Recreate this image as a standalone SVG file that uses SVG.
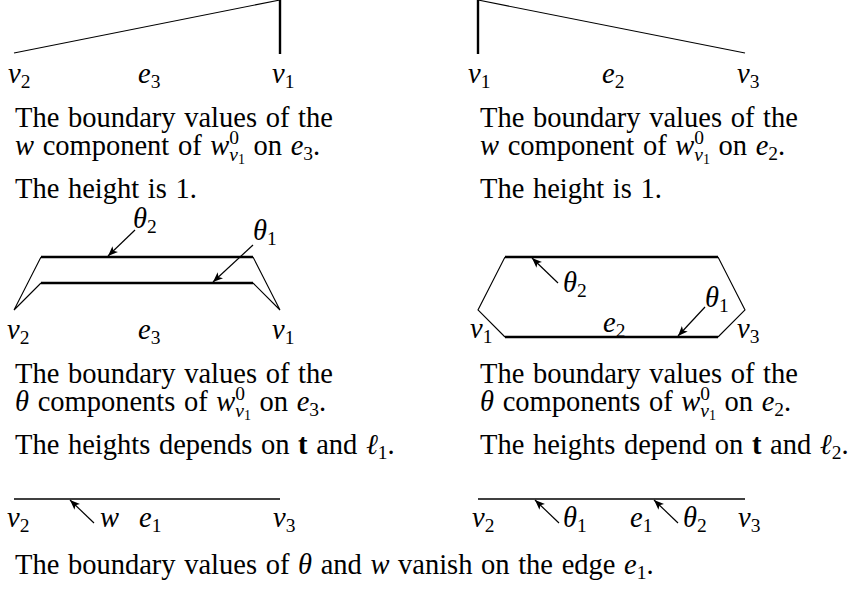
<svg xmlns="http://www.w3.org/2000/svg" width="855" height="590" viewBox="0 0 855 590">
<style>
text{font-family:"Liberation Serif","Times New Roman",serif;font-size:28.5px;fill:#000;word-spacing:1.5px}
.i{font-style:italic}
.n{font-style:normal}
.s{font-size:19.5px}
.ss{font-size:14px}
.b{font-weight:bold}
.thin{stroke:#000;stroke-width:1.1;fill:none}
.thick{stroke:#000;stroke-width:2.4;fill:none}
.mid{stroke:#000;stroke-width:1.6;fill:none}
.arr{stroke:#000;stroke-width:1.2;fill:none;marker-end:url(#ah)}
</style>
<defs>
<marker id="ah" markerUnits="userSpaceOnUse" markerWidth="12" markerHeight="10" refX="10" refY="4" orient="auto" viewBox="0 0 12 8"><path d="M0,0 L10,4 L0,8 L2.5,4 z" fill="#000"/></marker>
</defs>

<g id="panel-w-e3">
<line class="thin" x1="14" y1="53" x2="280" y2="0"/>
<line class="thick" x1="280" y1="0" x2="280" y2="54"/>
<text x="8" y="83" class="i">v<tspan class="s n" dy="5">2</tspan></text>
<text x="138" y="83" class="i">e<tspan class="s n" dy="5">3</tspan></text>
<text x="272" y="83" class="i">v<tspan class="s n" dy="5">1</tspan></text>
</g>

<g id="panel-w-e2">
<line class="thick" x1="478" y1="0" x2="478" y2="54"/>
<line class="thin" x1="478" y1="0" x2="745" y2="53"/>
<text x="468" y="83" class="i">v<tspan class="s n" dy="5">1</tspan></text>
<text x="602" y="83" class="i">e<tspan class="s n" dy="5">2</tspan></text>
<text x="737" y="83" class="i">v<tspan class="s n" dy="5">3</tspan></text>
</g>

<g id="caption-w-e3">
<text x="15" y="127">The boundary values of the</text>
<text x="15" y="155"><tspan class="i">w</tspan> component of <tspan class="i">w</tspan><tspan class="s" dy="-11">0</tspan><tspan class="s i" dx="-9.8" dy="17">v</tspan><tspan class="ss" dy="3">1</tspan><tspan dy="-9"> on </tspan><tspan class="i">e</tspan><tspan class="s" dy="5">3</tspan><tspan dy="-5">.</tspan></text>
<text x="15" y="198">The height is 1.</text>
</g>

<g id="caption-w-e2">
<text x="480" y="127">The boundary values of the</text>
<text x="480" y="155"><tspan class="i">w</tspan> component of <tspan class="i">w</tspan><tspan class="s" dy="-11">0</tspan><tspan class="s i" dx="-9.8" dy="17">v</tspan><tspan class="ss" dy="3">1</tspan><tspan dy="-9"> on </tspan><tspan class="i">e</tspan><tspan class="s" dy="5">2</tspan><tspan dy="-5">.</tspan></text>
<text x="480" y="198">The height is 1.</text>
</g>

<g id="panel-theta-e3">
<line class="thick" x1="41" y1="257" x2="253" y2="257"/>
<line class="thick" x1="41" y1="283" x2="253" y2="283"/>
<polyline class="thin" points="41,257 14,310 41,283"/>
<polyline class="thin" points="253,257 280,310 253,283"/>
<text x="133" y="228" class="i">θ<tspan class="s n" dy="5">2</tspan></text>
<text x="253" y="240" class="i">θ<tspan class="s n" dy="5">1</tspan></text>
<text x="7" y="339" class="i">v<tspan class="s n" dy="5">2</tspan></text>
<text x="138" y="339" class="i">e<tspan class="s n" dy="5">3</tspan></text>
<text x="272" y="339" class="i">v<tspan class="s n" dy="5">1</tspan></text>
</g>

<g id="panel-theta-e2">
<line class="thick" x1="505" y1="257" x2="718" y2="257"/>
<line class="thick" x1="505" y1="337" x2="718" y2="337"/>
<polyline class="thin" points="505,257 478,310 505,337"/>
<polyline class="thin" points="718,257 745,310 718,337"/>
<text x="563" y="292" class="i">θ<tspan class="s n" dy="5">2</tspan></text>
<text x="705" y="307" class="i">θ<tspan class="s n" dy="5">1</tspan></text>
<text x="470" y="338" class="i">v<tspan class="s n" dy="5">1</tspan></text>
<text x="603" y="332" class="i">e<tspan class="s n" dy="5">2</tspan></text>
<text x="737" y="338" class="i">v<tspan class="s n" dy="5">3</tspan></text>
</g>

<g id="caption-theta-e3">
<text x="15" y="383">The boundary values of the</text>
<text x="15" y="411"><tspan class="i">θ</tspan> components of <tspan class="i">w</tspan><tspan class="s" dy="-11">0</tspan><tspan class="s i" dx="-9.8" dy="17">v</tspan><tspan class="ss" dy="3">1</tspan><tspan dy="-9"> on </tspan><tspan class="i">e</tspan><tspan class="s" dy="5">3</tspan><tspan dy="-5">.</tspan></text>
<text x="15" y="454">The heights depends on <tspan class="b">t</tspan> and <tspan class="i">ℓ</tspan><tspan class="s" dy="5">1</tspan><tspan dy="-5">.</tspan></text>
</g>

<g id="caption-theta-e2">
<text x="480" y="383">The boundary values of the</text>
<text x="480" y="411"><tspan class="i">θ</tspan> components of <tspan class="i">w</tspan><tspan class="s" dy="-11">0</tspan><tspan class="s i" dx="-9.8" dy="17">v</tspan><tspan class="ss" dy="3">1</tspan><tspan dy="-9"> on </tspan><tspan class="i">e</tspan><tspan class="s" dy="5">2</tspan><tspan dy="-5">.</tspan></text>
<text x="480" y="454">The heights depend on <tspan class="b">t</tspan> and <tspan class="i">ℓ</tspan><tspan class="s" dy="5">2</tspan><tspan dy="-5">.</tspan></text>
</g>

<g id="panel-e1-w">
<line class="mid" x1="14" y1="499" x2="280" y2="499"/>
<text x="7" y="527" class="i">v<tspan class="s n" dy="5">2</tspan></text>
<text x="100" y="527" class="i">w</text>
<text x="139" y="527" class="i">e<tspan class="s n" dy="5">1</tspan></text>
<text x="273" y="527" class="i">v<tspan class="s n" dy="5">3</tspan></text>
</g>

<g id="panel-e1-theta">
<line class="mid" x1="478" y1="499" x2="745" y2="499"/>
<text x="472" y="527" class="i">v<tspan class="s n" dy="5">2</tspan></text>
<text x="563" y="527" class="i">θ<tspan class="s n" dy="5">1</tspan></text>
<text x="630" y="527" class="i">e<tspan class="s n" dy="5">1</tspan></text>
<text x="683" y="527" class="i">θ<tspan class="s n" dy="5">2</tspan></text>
<text x="738" y="527" class="i">v<tspan class="s n" dy="5">3</tspan></text>
</g>

<g id="caption-e1">
<text x="15" y="574">The boundary values of <tspan class="i">θ</tspan> and <tspan class="i">w</tspan> vanish on the edge <tspan class="i">e</tspan><tspan class="s" dy="5">1</tspan><tspan dy="-5">.</tspan></text>
</g>

<g id="connectors">
<line class="arr" x1="135" y1="230" x2="108" y2="256"/>
<line class="arr" x1="253" y1="245" x2="213" y2="282"/>
<line class="arr" x1="558" y1="283" x2="532" y2="258"/>
<line class="arr" x1="705" y1="307" x2="678" y2="336"/>
<line class="arr" x1="94" y1="523" x2="70" y2="500"/>
<line class="arr" x1="559" y1="523" x2="535" y2="500"/>
<line class="arr" x1="678" y1="523" x2="654" y2="500"/>
</g>
</svg>
